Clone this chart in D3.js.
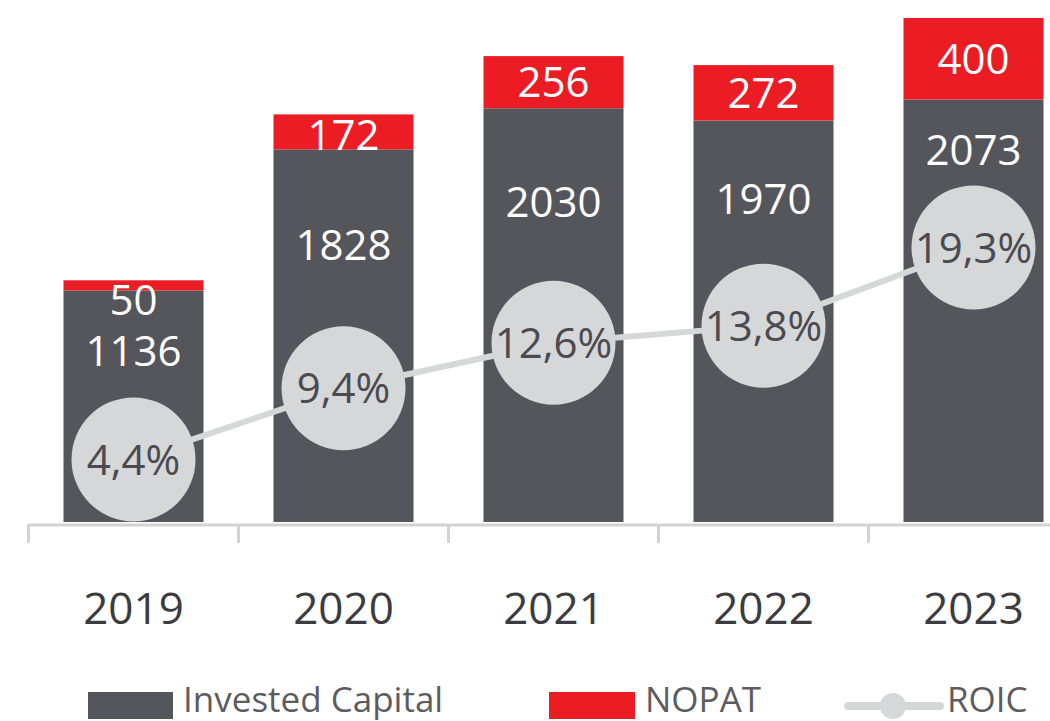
<!DOCTYPE html>
<html>
<head>
<meta charset="utf-8">
<script src="https://cdn.jsdelivr.net/npm/d3@7"></script>
<style>
  html, body { margin: 0; padding: 0; background: #fff; }
  svg { display: block; font-family: 'Open Sans', sans-serif; }
</style>
</head>
<body>
<div id="chart"></div>
<script>
const years = ['2019', '2020', '2021', '2022', '2023'];
const investedCapital = [1136, 1828, 2030, 1970, 2073];
const nopat = [50, 172, 256, 272, 400];
const roic = [4.4, 9.4, 12.6, 13.8, 19.3];
const legendLabels = ['Invested Capital', 'NOPAT', 'ROIC'];

const svgWidth = 1050;
const svgHeight = 721;
const baseline = 522;
const circleRadius = 62;

const colors = {bar: '#55565b', nopat: '#ec1c24', roic: '#d6d7d9', roicText: '#4a4a50', axis: '#d3d3d5', year: '#3c3c40', legend: '#5c5c60'};

// Percent format with comma decimal
const formatPct = v => v.toFixed(1).replace('.', ',') + '%';

const data = years.map((year, i) => ({year, ic: investedCapital[i], np: nopat[i], roic: roic[i]}));

const svg = d3.select('#chart').append('svg')
    .attr('width', svgWidth)
    .attr('height', svgHeight);

// Scales
const x = d3.scaleBand()
    .domain(years)
    .range([28.5, 1078.5])
    .paddingInner(1 / 3)
    .paddingOuter(1 / 6);

const y = d3.scaleLinear()
    .domain([0, d3.max(data, d => d.ic + d.np)])
    .range([baseline, 18]);

const yRoic = d3.scaleLinear()
    .domain([0, 35])
    .range([baseline, 24]);

const cx = d => x(d.year) + x.bandwidth() / 2;

// X axis line with ticks between categories
const step = x.step();
const axis = svg.append('g').attr('class', 'xAxis');
axis.append('line')
    .attr('x1', x.range()[0]).attr('x2', svgWidth)
    .attr('y1', baseline + 3).attr('y2', baseline + 3)
    .attr('stroke', colors.axis).attr('stroke-width', 3);
axis.selectAll('line.tick')
    .data(years)
    .enter()
    .append('line')
        .attr('class', 'tick')
        .attr('x1', d => x(d) - step * (1 / 6))
        .attr('x2', d => x(d) - step * (1 / 6))
        .attr('y1', baseline + 2).attr('y2', baseline + 21)
        .attr('stroke', colors.axis).attr('stroke-width', 3);
axis.selectAll('text.year')
    .data(years)
    .enter()
    .append('text')
        .attr('class', 'year')
        .attr('x', d => x(d) + x.bandwidth() / 2)
        .attr('y', 624)
        .attr('text-anchor', 'middle')
        .attr('fill', colors.year)
        .style('font-size', '44px')
        .text(d => d);

// Bars: invested capital
svg.selectAll('rect.ic')
    .data(data)
    .enter()
    .append('rect')
        .attr('class', 'ic')
        .attr('x', d => x(d.year))
        .attr('width', x.bandwidth())
        .attr('y', d => y(d.ic))
        .attr('height', d => baseline - y(d.ic))
        .attr('fill', colors.bar);

// Bars: NOPAT stacked on top
svg.selectAll('rect.np')
    .data(data)
    .enter()
    .append('rect')
        .attr('class', 'np')
        .attr('x', d => x(d.year))
        .attr('width', x.bandwidth())
        .attr('y', d => y(d.ic + d.np))
        .attr('height', d => y(d.ic) - y(d.ic + d.np))
        .attr('fill', colors.nopat);

// NOPAT labels
svg.selectAll('text.np')
    .data(data)
    .enter()
    .append('text')
        .attr('class', 'np')
        .attr('x', cx)
        .attr('y', d => Math.max((y(d.ic + d.np) + y(d.ic)) / 2, y(d.ic + d.np) + 20))
        .attr('dy', '0.36em')
        .attr('text-anchor', 'middle')
        .attr('fill', '#fff')
        .style('font-size', '42px')
        .text(d => d.np);

// Invested capital labels, between bar top and ROIC bubble
svg.selectAll('text.ic')
    .data(data)
    .enter()
    .append('text')
        .attr('class', 'ic')
        .attr('x', cx)
        .attr('y', d => (y(d.ic) + yRoic(d.roic) - circleRadius) / 2 + 7)
        .attr('dy', '0.36em')
        .attr('text-anchor', 'middle')
        .attr('fill', '#fff')
        .style('font-size', '42px')
        .text(d => d.ic);

// ROIC line
svg.append('path')
    .datum(data)
    .attr('fill', 'none')
    .attr('stroke', colors.roic)
    .attr('stroke-width', 6)
    .attr('d', d3.line().x(cx).y(d => yRoic(d.roic)));

svg.selectAll('circle.roic')
    .data(data)
    .enter()
    .append('circle')
        .attr('class', 'roic')
        .attr('cx', cx)
        .attr('cy', d => yRoic(d.roic))
        .attr('r', circleRadius)
        .attr('fill', colors.roic);

svg.selectAll('text.roic')
    .data(data)
    .enter()
    .append('text')
        .attr('class', 'roic')
        .attr('x', cx)
        .attr('y', d => yRoic(d.roic))
        .attr('dy', '0.36em')
        .attr('text-anchor', 'middle')
        .attr('fill', colors.roicText)
        .style('font-size', '42px')
        .text(d => formatPct(d.roic));

// Legend
const legend = svg.append('g').attr('class', 'legend');
const legendX = [88, 549, 848];

legend.append('rect').attr('x', legendX[0]).attr('y', 692).attr('width', 85).attr('height', 27).attr('fill', colors.bar);
legend.append('rect').attr('x', legendX[1]).attr('y', 692).attr('width', 86).attr('height', 27).attr('fill', colors.nopat);
legend.append('line')
    .attr('x1', legendX[2]).attr('x2', legendX[2] + 92)
    .attr('y1', 706).attr('y2', 706)
    .attr('stroke', colors.roic).attr('stroke-width', 8).attr('stroke-linecap', 'round');
legend.append('circle').attr('cx', legendX[2] + 45).attr('cy', 706).attr('r', 13).attr('fill', colors.roic);

legend.selectAll('text')
    .data(legendLabels)
    .enter()
    .append('text')
        .attr('x', (d, i) => [183, 645, 947][i])
        .attr('y', 712)
        .attr('fill', colors.legend)
        .style('font-size', '35px')
        .text(d => d);
</script>
</body>
</html>
